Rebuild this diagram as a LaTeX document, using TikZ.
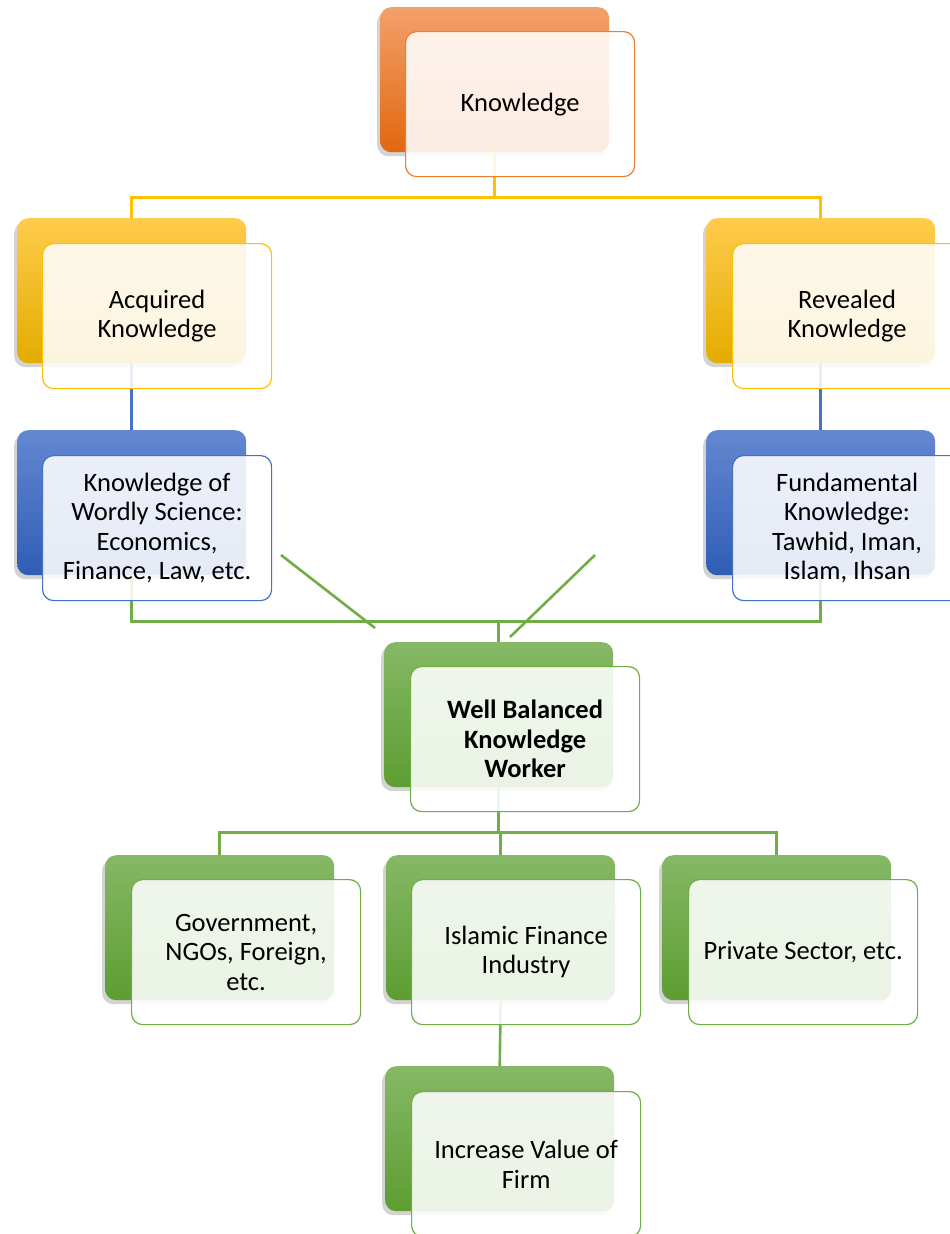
\documentclass[tikz,border=0pt]{standalone}
\usepackage{fontspec}
\setmainfont{Carlito}
\usetikzlibrary{shadows}
\definecolor{oTop}{HTML}{F3A06A}
\definecolor{oBot}{HTML}{E2670F}
\definecolor{oLine}{HTML}{ED7D31}
\definecolor{yTop}{HTML}{FFCB4C}
\definecolor{yBot}{HTML}{E3AC00}
\definecolor{yLine}{HTML}{FFC000}
\definecolor{bTop}{HTML}{6487D1}
\definecolor{bBot}{HTML}{2F5DB6}
\definecolor{bLine}{HTML}{4472C4}
\definecolor{gTop}{HTML}{86B866}
\definecolor{gBot}{HTML}{5C9D31}
\definecolor{gLine}{HTML}{70AD47}
\tikzset{
  back/.style={rounded corners=11pt, minimum width=229pt, minimum height=145pt, anchor=north west, inner sep=0pt,
    drop shadow={shadow xshift=-3pt, shadow yshift=-4pt, opacity=0.35}},
  backO/.style={back, top color=oTop, bottom color=oBot},
  backY/.style={back, top color=yTop, bottom color=yBot},
  backB/.style={back, top color=bTop, bottom color=bBot},
  backG/.style={back, top color=gTop, bottom color=gBot},
  front/.style={rounded corners=11pt, minimum width=229pt, minimum height=145pt, anchor=north west, inner sep=0pt,
    fill=white, fill opacity=0.88, text opacity=1, draw opacity=1, line width=1.2pt, align=center,
    font=\fontsize{26.5}{29.5}\selectfont},
  frontO/.style={front, draw=oLine},
  frontY/.style={front, draw=yLine},
  frontB/.style={front, draw=bLine},
  frontG/.style={front, draw=gLine},
  conn/.style={line width=2.6pt},
}
\begin{document}
\begin{tikzpicture}[x=1pt, y=-1pt]
\useasboundingbox (0,0) rectangle (950,1234);
% back boxes
\node[backO] (kb) at (380,7) {};
\node[backY] (ab) at (17,218) {};
\node[backY] (rb) at (706,218) {};
\node[backB] (wsb) at (17,430) {};
\node[backB] (fkb) at (706,430) {};
\node[backG] (wbb) at (384,642) {};
\node[backG] (gvb) at (105,855) {};
\node[backG] (ifb) at (386,855) {};
\node[backG] (psb) at (662,855) {};
\node[backG] (ivb) at (385,1066) {};
% connectors
\draw[conn, yLine] (kb.south) -- ++(0,45) -| (ab.north);
\draw[conn, yLine] (kb.south) -- ++(0,45) -| (rb.north);
\draw[conn, bLine] (ab.south) -- (wsb.north);
\draw[conn, bLine] (rb.south) -- (fkb.north);
\draw[conn, gLine] (wsb.south) -- ++(0,46) -| (wbb.north);
\draw[conn, gLine] (fkb.south) -- ++(0,46) -| (wbb.north);
\coordinate (d1a) at (281,555); \coordinate (d1b) at (375,628);
\coordinate (d2a) at (595,555); \coordinate (d2b) at (510,637);
\draw[conn, gLine] (d1a) -- (d1b);
\draw[conn, gLine] (d2a) -- (d2b);
\draw[conn, gLine] (wbb.south) -- ++(0,45) -| (gvb.north);
\draw[conn, gLine] (wbb.south) -- ++(0,45) -| (ifb.north);
\draw[conn, gLine] (wbb.south) -- ++(0,45) -| (psb.north);
\draw[conn, gLine] (ifb.south) -- (ivb.north);
% front boxes
\node[frontO] (kf) at (405,31) {Knowledge};
\node[frontY] (af) at (42,243) {Acquired\\Knowledge};
\node[frontY] (rf) at (732,243) {Revealed\\Knowledge};
\node[frontB] (wsf) at (42,455) {Knowledge of\\Wordly Science:\\Economics,\\Finance, Law, etc.};
\node[frontB] (fkf) at (732,455) {Fundamental\\Knowledge:\\Tawhid, Iman,\\Islam, Ihsan};
\node[frontG, font=\fontsize{26.5}{29.5}\selectfont\bfseries] (wbf) at (410,666) {Well Balanced\\Knowledge\\Worker};
\node[frontG] (gvf) at (131,879) {Government,\\NGOs, Foreign,\\etc.};
\node[frontG] (iff) at (411,879) {Islamic Finance\\Industry};
\node[frontG] (psf) at (688,879) {Private Sector, etc.};
\node[frontG] (ivf) at (411,1091) {Increase Value of\\Firm};
\end{tikzpicture}
\end{document}
